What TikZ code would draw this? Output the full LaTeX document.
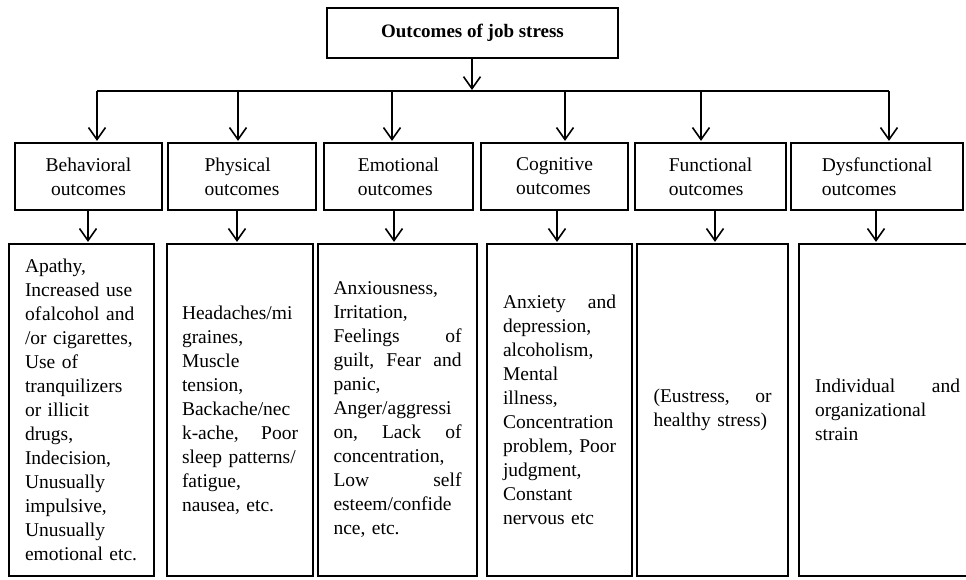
\documentclass[tikz,border=0pt]{standalone}
\usepackage{fontspec}
\setmainfont{Liberation Serif}
\usetikzlibrary{arrows.meta}
\begin{document}
\begin{tikzpicture}[x=1pt,y=-1pt,
  box/.style={draw, line width=2.2pt, inner sep=0pt, font=\fontsize{19.5}{24}\selectfont},
  catbox/.style={box, minimum height=67pt, align=left},
  detbox/.style={box, minimum height=332pt, align=left},
  arr/.style={line width=1.6pt, -{Straight Barb[length=12pt,width=17pt,line width=1.6pt]}, shorten >=1pt},
  conn/.style={line width=1.6pt}
]
\clip (0,0) rectangle (966,579);
\fill[white] (0,0) rectangle (966,579);

% top
\node[box, minimum width=291pt, minimum height=50pt, font=\fontsize{19}{23}\selectfont\bfseries] (top) at (472.5,33) {Outcomes of job stress};

% categories
\node[catbox, minimum width=147pt, align=center] (cat1) at (88.5,176.5) {Behavioral\\outcomes};
\node[catbox, minimum width=148pt] (cat2) at (242,176.5) {Physical\\outcomes};
\node[catbox, minimum width=149pt] (cat3) at (398.5,176.5) {Emotional\\outcomes};
\node[catbox, minimum width=147pt] (cat4) at (554.5,176.5) {Cognitive\\outcomes};
\node[catbox, minimum width=151pt] (cat5) at (710.5,176.5) {Functional\\outcomes};
\node[catbox, minimum width=172pt] (cat6) at (877,176.5) {Dysfunctional\\outcomes};

% details
\node[detbox, minimum width=145pt, text width=113pt] (det1) at (81.5,410) {Apathy,\\Increased use\\\mbox{of\hspace{1pt}alcohol and}\\/or cigarettes,\\Use of\\tranquilizers\\or illicit\\drugs,\\Indecision,\\Unusually\\impulsive,\\Unusually\\\mbox{emotional etc.}};
\node[detbox, minimum width=146pt, text width=116pt] (det2) at (240,410) {Headaches/mi\\graines,\\Muscle\\tension,\\Backache/nec\\k-ache,\hfill Poor\\\mbox{sleep patterns/}\\fatigue,\\nausea, etc.};
\node[detbox, minimum width=159pt, text width=128pt] (det3) at (397.5,410) {Anxiousness,\\Irritation,\\Feelings\hfill of\\guilt,\hfill Fear\hfill and\\panic,\\Anger/aggressi\\on,\hfill Lack\hfill of\\concentration,\\Low\hfill self\\esteem/confide\\nce, etc.};
\node[detbox, minimum width=145pt, text width=113pt] (det4) at (559.5,410) {Anxiety\hfill and\\depression,\\alcoholism,\\Mental\\illness,\\Concentration\\\mbox{problem, Poor}\\judgment,\\Constant\\nervous etc};
\node[detbox, minimum width=151pt, text width=118pt] (det5) at (712.5,410) {(Eustress,\hfill or\\healthy stress)};
\node[detbox, minimum width=177pt, text width=145pt] (det6) at (887.5,410) {Individual\hfill and\\organizational\\strain};

% bus
\coordinate (b1) at (97,91);
\coordinate (b2) at (238,91);
\coordinate (b3) at (392,91);
\coordinate (b4) at (565,91);
\coordinate (b5) at (701,91);
\coordinate (b6) at (889,91);
\coordinate (bt) at (472,91);

\draw[arr] (top.south -| bt) -- (bt);
\draw[conn] (b1) -- (b6);
\foreach \i in {1,...,6} {
  \draw[arr] (b\i) -- (b\i |- cat\i.north);
}

% second to third
\coordinate (d1) at (88,0);
\coordinate (d2) at (237,0);
\coordinate (d3) at (394,0);
\coordinate (d4) at (557,0);
\coordinate (d5) at (715,0);
\coordinate (d6) at (876,0);
\foreach \i in {1,...,6} {
  \draw[arr] (cat\i.south -| d\i) -- (det\i.north -| d\i);
}
\end{tikzpicture}
\end{document}
